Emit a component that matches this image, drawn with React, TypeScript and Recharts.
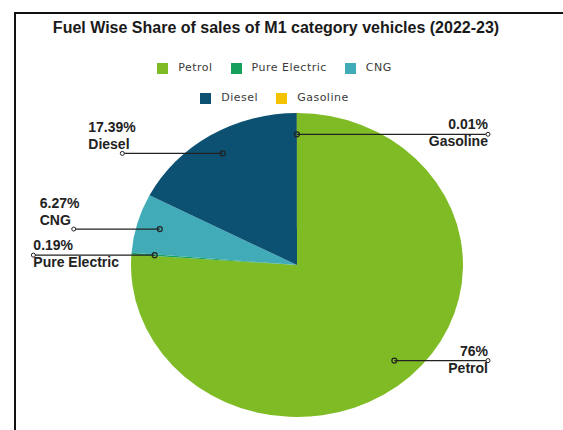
import { PieChart, Pie, Cell, Legend } from 'recharts';

const FUELS = ['Petrol', 'Pure Electric', 'CNG', 'Diesel', 'Gasoline'];
const SHARES = [76, 0.19, 6.27, 17.39, 0.01];
const FUEL_COLORS = ['#7fbb24', '#15a05b', '#41abb7', '#0c5072', '#f3c300'];

const data = FUELS.map((name, i) => ({ name, value: SHARES[i], fill: FUEL_COLORS[i] }));

const CX = 297;
const CY = 265;
const R = 152;
// the source pie is a bit wider than tall
const STRETCH = 1.092;

function renderLabel(props: any) {
  const { cx, cy, midAngle, outerRadius, name, value } = props;
  const rad = (-midAngle * Math.PI) / 180;
  const cos = Math.cos(rad);
  const sin = Math.sin(rad);
  const rx = outerRadius * STRETCH;
  const dx = cx + outerRadius * 0.86 * cos * STRETCH;
  const dy = cy + outerRadius * 0.86 * sin;
  const right = cos >= -0.01;
  const stacked = !right && sin < -0.2;

  // x of the pie's left edge at the label's height
  const k = Math.min(1, Math.abs(dy - cy) / outerRadius);
  const edge = cx - rx * Math.sqrt(1 - k * k);

  let ex: number;
  let tx: number;
  let y1 = dy - 5;
  let y2 = dy + 12;
  if (right) {
    ex = cx + rx + 25;
    tx = ex;
  } else if (stacked) {
    ex = edge - 62;
    tx = ex - 34;
    y1 = dy - 21;
    y2 = dy - 4;
  } else {
    ex = edge - 98;
    tx = ex;
  }
  const anchor = right ? 'end' : 'start';
  const textStyle = {
    fontFamily: '"Liberation Sans", Arial, sans-serif',
    fontWeight: 700,
    fontSize: 14,
    fill: '#222',
  };
  return (
    <g>
      <line x1={dx} y1={dy} x2={ex} y2={dy} stroke="#222" strokeWidth={1.2} />
      <circle cx={dx} cy={dy} r={2.5} fill="none" stroke="#222" strokeWidth={1.2} />
      <circle cx={ex} cy={dy} r={2} fill="#fff" stroke="#222" strokeWidth={1} />
      <text x={tx} y={y1} textAnchor={anchor} style={textStyle}>{`${value}%`}</text>
      <text x={tx} y={y2} textAnchor={anchor} style={textStyle}>{name}</text>
    </g>
  );
}

function FuelLegend() {
  const rows = [data.slice(0, 3), data.slice(3)];
  return (
    <div style={{ display: 'flex', flexDirection: 'column', alignItems: 'center', gap: 18 }}>
      {rows.map((row, ri) => (
        <div key={ri} style={{ display: 'flex', gap: 18, alignItems: 'center', height: 12 }}>
          {row.map((it) => (
            <div key={it.name} style={{ display: 'flex', alignItems: 'center', gap: 10 }}>
              <span style={{ width: 11, height: 11, background: it.fill, display: 'inline-block' }} />
              <span style={{
                fontFamily: '"DejaVu Sans", sans-serif', fontSize: 11, letterSpacing: 0.5,
                color: '#3a3a3a', lineHeight: '12px',
              }}>{it.name}</span>
            </div>
          ))}
        </div>
      ))}
    </div>
  );
}

export default function App() {
  return (
    <div style={{ position: 'absolute', left: 0, top: 0, width: 563, height: 430, background: '#fff', overflow: 'hidden' }}>
      <style>{`.fuel-pie path.recharts-sector { transform: scaleX(${STRETCH}); transform-origin: ${CX}px ${CY}px; }`}</style>
      <div style={{
        position: 'absolute', left: 14, top: 12, width: 600, height: 500,
        borderTop: '2px solid #111', borderLeft: '2px solid #111',
      }} />
      <div style={{
        position: 'absolute', left: 0, top: 20, width: 552, textAlign: 'center',
        fontFamily: '"Liberation Sans", Arial, sans-serif', fontWeight: 700, fontSize: 16,
        lineHeight: '16px', color: '#1a1a1a',
      }}>
        Fuel Wise Share of sales of M1 category vehicles (2022-23)
      </div>
      <div className="fuel-pie" style={{ position: 'absolute', left: 0, top: 0 }}>
        <PieChart width={563} height={430} margin={{ top: 0, right: 0, bottom: 0, left: 0 }}>
          <Legend
            content={<FuelLegend />}
            wrapperStyle={{ position: 'absolute', top: 62, left: 0, width: 549 }}
          />
          <Pie
            data={data}
            dataKey="value"
            nameKey="name"
            cx={CX}
            cy={CY}
            outerRadius={R}
            startAngle={90}
            endAngle={-270}
            stroke="none"
            label={renderLabel}
            labelLine={false}
            isAnimationActive={false}
          >
            {data.map((d) => (
              <Cell key={d.name} fill={d.fill} />
            ))}
          </Pie>
        </PieChart>
      </div>
    </div>
  );
}
